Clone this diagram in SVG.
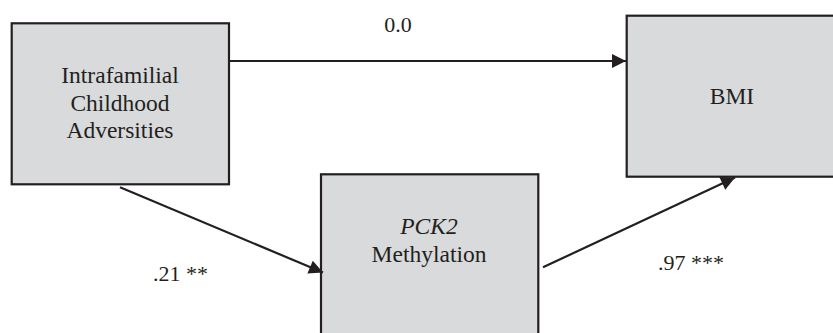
<svg xmlns="http://www.w3.org/2000/svg" width="833" height="333" viewBox="0 0 833 333">
  <style>
    .box { fill: #d9dadc; stroke: #231f20; stroke-width: 2.2; }
    text { font-family: 'Liberation Serif', 'Times New Roman', serif; fill: #231f20; }
    .lbl { font-size: 23.5px; text-anchor: middle; }
    .coef { font-size: 22px; }
    .edge { stroke: #231f20; stroke-width: 2.2; fill: none; marker-end: url(#head); }
  </style>
  <defs>
    <marker id="head" viewBox="0 0 10 10" refX="10" refY="5" markerWidth="15" markerHeight="14" markerUnits="userSpaceOnUse" orient="auto">
      <path d="M0,0 L10,5 L0,10 Z" fill="#231f20"/>
    </marker>
  </defs>

  <g id="node-adversities">
    <rect class="box" x="11.7" y="23.3" width="217.3" height="161"/>
    <text class="lbl" x="120" y="83" font-family="Liberation Serif, serif">Intrafamilial</text>
    <text class="lbl" x="120" y="111" font-family="Liberation Serif, serif">Childhood</text>
    <text class="lbl" x="120" y="138" font-family="Liberation Serif, serif">Adversities</text>
  </g>

  <g id="node-bmi">
    <rect class="box" x="626.7" y="15.7" width="220" height="161"/>
    <text class="lbl" x="732" y="104" font-family="Liberation Serif, serif">BMI</text>
  </g>

  <g id="node-pck2">
    <rect class="box" x="321" y="174.3" width="217.3" height="170"/>
    <text class="lbl" x="429" y="234" font-style="italic" font-family="Liberation Serif, serif">PCK2</text>
    <text class="lbl" x="429" y="262" font-family="Liberation Serif, serif">Methylation</text>
  </g>

  <g id="connectors">
    <line class="edge" x1="229" y1="61" x2="626" y2="61"/>
    <line class="edge" x1="120" y1="187.3" x2="323" y2="272.5"/>
    <line class="edge" x1="543" y1="267.3" x2="735" y2="177.5"/>
    <text class="coef" x="398" y="32" text-anchor="middle" font-family="Liberation Serif, serif">0.0</text>
    <text class="coef" x="153" y="281" font-family="Liberation Serif, serif">.21 **</text>
    <text class="coef" x="658" y="270" font-family="Liberation Serif, serif">.97 ***</text>
  </g>
</svg>
